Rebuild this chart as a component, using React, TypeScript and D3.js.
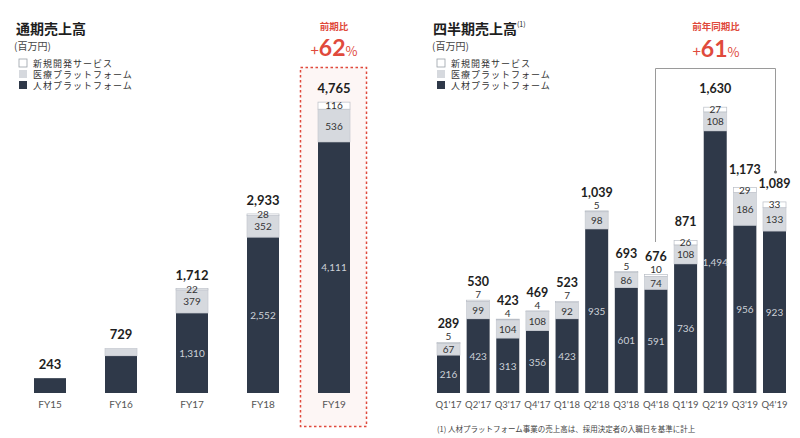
import React from "react";
import * as d3 from "d3";

// 通期 (annual)
const fyCats = ["FY15", "FY16", "FY17", "FY18", "FY19"];
const fyHr = [243, 610, 1310, 2552, 4111];
const fyMed = [0, 119, 379, 352, 536];
const fyNew = [0, 0, 22, 28, 116];
const fyTotals = ["243", "729", "1,712", "2,933", "4,765"];
const fyShowSeg = [false, false, true, true, true];

// 四半期 (quarterly)
const qCats = ["Q1'17", "Q2'17", "Q3'17", "Q4'17", "Q1'18", "Q2'18", "Q3'18", "Q4'18", "Q1'19", "Q2'19", "Q3'19", "Q4'19"];
const qHr = [216, 423, 313, 356, 423, 935, 601, 591, 736, 1494, 956, 923];
const qMed = [67, 99, 104, 108, 92, 98, 86, 74, 108, 108, 186, 133];
const qNew = [5, 7, 4, 4, 7, 5, 5, 10, 26, 27, 29, 33];
const qTotals = ["289", "530", "423", "469", "523", "1,039", "693", "676", "871", "1,630", "1,173", "1,089"];

const legendLabels = ["新規開発サービス", "医療プラットフォーム", "人材プラットフォーム"];

const C_DARK = "#2f3949";
const C_MED = "#d6d9de";
const C_NEW = "#ffffff";
const C_RED = "#e04a3c";
const FONT = "'Noto Sans CJK JP', 'Noto Sans', sans-serif";
const NUM = "Lato, 'Noto Sans', sans-serif";
const BASE = 393;

type Row = { cat: string; hr: number; med: number; nw: number };

function buildRows(cats: string[], hr: number[], med: number[], nw: number[]): Row[] {
  return cats.map((c, i) => ({ cat: c, hr: hr[i], med: med[i], nw: nw[i] }));
}

function Legend({ x, y }: { x: number; y: number }) {
  const fills = [C_NEW, C_MED, C_DARK];
  return (
    <g>
      {legendLabels.map((t, i) => (
        <g key={t} transform={`translate(${x},${y + i * 11})`}>
          <rect x={0} y={-4} width={8} height={8} fill={fills[i]} stroke={i === 0 ? "#9aa0a8" : "none"} strokeWidth={0.8} />
          <text x={14} y={3.5} fontSize={9} fill="#333" fontFamily={FONT} letterSpacing={1}>{t}</text>
        </g>
      ))}
    </g>
  );
}

function Stacked({
  rows, totals, xRange, barW, yMax, yTop, showSeg, totalSize, labelGap, smallNewAbove, catSize,
}: {
  rows: Row[]; totals: string[]; xRange: [number, number]; barW: number; yMax: number; yTop: number;
  showSeg: boolean[]; totalSize: number; labelGap: number; smallNewAbove: boolean; catSize: number;
}) {
  const x = d3.scalePoint<string>().domain(rows.map((r) => r.cat)).range(xRange);
  const y = d3.scaleLinear().domain([0, yMax]).range([BASE, yTop]);
  const series = d3.stack<Row>().keys(["hr", "med", "nw"])(rows);
  const fills = [C_DARK, C_MED, C_NEW];
  return (
    <g>
      {series.map((s, si) =>
        s.map((d, i) => {
          const cx = x(rows[i].cat) as number;
          const h = y(d[0]) - y(d[1]);
          if (h <= 0) return null;
          return (
            <rect key={`${si}-${i}`} x={cx - barW / 2} y={y(d[1])} width={barW} height={h}
              fill={fills[si]} stroke={si === 2 ? "#b9bec6" : si === 1 ? "#c5c9d0" : "none"} strokeWidth={si === 0 ? 0 : 0.7} />
          );
        })
      )}
      {rows.map((r, i) => {
        const cx = x(r.cat) as number;
        const top = y(r.hr + r.med + r.nw);
        const els: React.ReactNode[] = [];
        els.push(
          <text key="t" x={cx} y={top - labelGap} textAnchor="middle" fontSize={totalSize} fontWeight={700}
            fill="#1e1e1e" fontFamily={NUM}>{totals[i]}</text>
        );
        if (showSeg[i]) {
          const hrMid = (y(0) + y(r.hr)) / 2;
          els.push(
            <text key="h" x={cx} y={hrMid + 4} textAnchor="middle" fontSize={10} fill="#cdd1d8" fontFamily={NUM}>
              {d3.format(",")(r.hr)}</text>
          );
          const medMid = (y(r.hr) + y(r.hr + r.med)) / 2;
          els.push(
            <text key="m" x={cx} y={medMid + 4} textAnchor="middle" fontSize={10} fill="#333" fontFamily={NUM}>
              {r.med}</text>
          );
          const nh = y(r.hr + r.med) - top;
          const ny = smallNewAbove && nh < 4 ? top - 2 : top + Math.max(nh / 2, 0.5) + 3.5;
          els.push(
            <text key="n" x={cx} y={ny} textAnchor="middle" fontSize={10} fill="#333" fontFamily={NUM}>
              {r.nw}</text>
          );
        }
        els.push(
          <text key="x" x={cx} y={408} textAnchor="middle" fontSize={catSize} fill="#555" fontFamily={NUM}>{r.cat}</text>
        );
        return <g key={r.cat}>{els}</g>;
      })}
    </g>
  );
}

export default function App() {
  const fyRows = buildRows(fyCats, fyHr, fyMed, fyNew);
  const qRows = buildRows(qCats, qHr, qMed, qNew);
  return (
    <svg width={800} height={438} style={{ position: "absolute", left: 0, top: 0, display: "block", background: "#fff" }}>
      {/* left: annual */}
      <text x={16} y={34} fontSize={14} fontWeight={700} fill="#1e1e1e" fontFamily={FONT}>通期売上高</text>
      <text x={14} y={50} fontSize={10} fill="#444" fontFamily={FONT}>(百万円)</text>
      <Legend x={19} y={63} />
      <rect x={300.5} y={67.5} width={66} height={359} fill="#fdf6f5" stroke={C_RED} strokeWidth={1.5} strokeDasharray="2.5,2.5" />
      <text x={334} y={30} textAnchor="middle" fontSize={9.5} fontWeight={700} fill={C_RED} fontFamily={FONT}>前期比</text>
      <text x={334} y={56} textAnchor="middle" fill={C_RED} fontFamily={FONT}>
        <tspan fontSize={15}>+</tspan><tspan fontSize={23} fontWeight={700} fontFamily={NUM}>62</tspan><tspan fontSize={13}>%</tspan>
      </text>
      <Stacked rows={fyRows} totals={fyTotals} xRange={[50, 334]} barW={32} yMax={4765} yTop={102}
        showSeg={fyShowSeg} totalSize={13} labelGap={9} smallNewAbove={false} catSize={10} />

      {/* right: quarterly */}
      <text x={433} y={34} fontSize={14} fontWeight={700} fill="#1e1e1e" fontFamily={FONT}>
        四半期売上高<tspan fontSize={7} fontWeight={400} dy={-7}>(1)</tspan>
      </text>
      <text x={432} y={50} fontSize={10} fill="#444" fontFamily={FONT}>(百万円)</text>
      <Legend x={437} y={63} />
      <text x={716} y={30} textAnchor="middle" fontSize={9.5} fontWeight={700} fill={C_RED} fontFamily={FONT}>前年同期比</text>
      <text x={716} y={57} textAnchor="middle" fill={C_RED} fontFamily={FONT}>
        <tspan fontSize={15}>+</tspan><tspan fontSize={23} fontWeight={700} fontFamily={NUM}>61</tspan><tspan fontSize={13}>%</tspan>
      </text>
      <path d="M655.5,242 V68.5 H775.5 V171" fill="none" stroke="#9a9a9a" strokeWidth={1} />
      <circle cx={775.5} cy={172} r={1.5} fill="#777" />
      <Stacked rows={qRows} totals={qTotals} xRange={[448.5, 774.5]} barW={23} yMax={1630} yTop={107}
        showSeg={qCats.map(() => true)} totalSize={12.5} labelGap={14} smallNewAbove={true} catSize={9.5} />
      <text x={437} y={432} fontSize={7.5} fill="#444" fontFamily={FONT}>(1) 人材プラットフォーム事業の売上高は、採用決定者の入職日を基準に計上</text>
    </svg>
  );
}
